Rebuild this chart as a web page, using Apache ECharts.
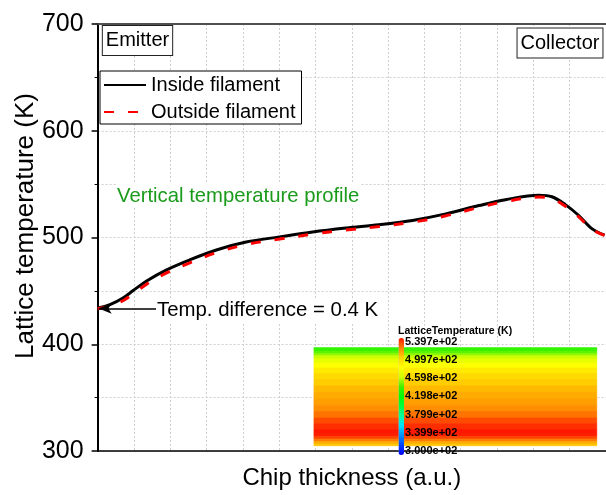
<!DOCTYPE html>
<html>
<head>
<meta charset="utf-8">
<script src="https://cdn.jsdelivr.net/npm/echarts@6/dist/echarts.min.js"></script>
<style>
  html, body { margin: 0; padding: 0; background: #fff; }
  #chart { width: 606px; height: 495px; }
</style>
</head>
<body>
<div id="chart"></div>
<script>
// Position along the chip thickness (a.u.) of each sampled point
const thickness = [0, 0.34, 0.71, 0.98, 1.35, 1.90, 2.54, 3.27, 4.09, 5.01, 5.92, 6.84,
                   7.75, 8.67, 9.59, 10.50, 11.23, 12.15, 12.51, 12.88, 13.25, 13.61, 13.96];
// Lattice temperature (K) inside and outside the filament
const insideTemp = [433.7, 437.1, 443.6, 450.3, 459.3, 469.7, 479.1, 488.3, 495.7, 500.6, 505.2, 508.9,
                    512.0, 516.0, 522.1, 529.9, 535.4, 539.6, 538.2, 530.8, 520.6, 508.3, 502.2];
const outsideTemp = [433.3, 435.8, 441.0, 447.3, 456.3, 466.8, 476.3, 485.8, 493.4, 498.5, 503.2, 507.0,
                     510.2, 514.3, 520.3, 528.2, 533.7, 537.9, 536.5, 529.3, 519.4, 507.6, 502.0];
const seriesNames = ['Inside filament', 'Outside filament'];
// Colour scale of the cross-section map
const colorbarMin = 300.0;
const colorbarMax = 539.7;
const colorbarLabels = ['3.000e+02', '3.399e+02', '3.799e+02', '4.198e+02', '4.598e+02', '4.997e+02', '5.397e+02'];
const colorbarColors = ['#0000ff', '#0040ff', '#0090ff', '#00e0ff', '#00ffa0', '#00ff40', '#00ff00',
                        '#40f000', '#d0ff00', '#ffff00', '#ffd000', '#ff8000', '#ff1800'];

const FONT = 'Liberation Sans, Arial, Helvetica, sans-serif';

const insidePoints = thickness.map((u, i) => [u, insideTemp[i]]);
const outsidePoints = thickness.map((u, i) => [u, outsideTemp[i]]);
// Horizontal bands of the cross-section: each sample spans to the midpoints of its neighbours
const bandData = thickness.map((u, i) => [
  i === 0 ? 0 : (thickness[i - 1] + u) / 2,
  i === thickness.length - 1 ? 14 : (u + thickness[i + 1]) / 2,
  insideTemp[i]
]);

const gridDash = [2, 2];
const gridColor = '#cfcfcf';

const chart = echarts.init(document.getElementById('chart'), null, { renderer: 'canvas' });
chart.setOption({
  animation: false,
  backgroundColor: '#fff',
  textStyle: { fontFamily: FONT, color: '#000' },
  grid: [
    { left: 97.6, top: 24, width: 510, height: 432.7 },
    { left: 314, top: 347.7, width: 282.7, height: 98 },
    { left: 403, top: 341.7, width: 1, height: 109.3 }
  ],
  xAxis: [
    {
      gridIndex: 0, type: 'value', min: 0, max: 14, interval: 1,
      axisLine: { show: true, onZero: false, lineStyle: { color: '#000', width: 1.5 } },
      axisTick: { show: false }, axisLabel: { show: false },
      splitLine: { show: true, lineStyle: { color: gridColor, type: gridDash, width: 1 } },
      name: 'Chip thickness (a.u.)', nameLocation: 'middle', nameGap: 15,
      nameTextStyle: { fontSize: 24, color: '#000', fontFamily: FONT }
    },
    {
      gridIndex: 0, type: 'value', position: 'top', min: 0, max: 14,
      axisLine: { show: true, onZero: false, lineStyle: { color: '#505050', width: 2 } },
      axisTick: { show: false }, axisLabel: { show: false }, splitLine: { show: false }
    },
    { gridIndex: 1, type: 'value', min: 0, max: 1, show: false },
    { gridIndex: 2, type: 'value', min: 0, max: 1, show: false }
  ],
  yAxis: [
    {
      gridIndex: 0, type: 'value', min: 300, max: 700, interval: 100,
      axisLine: { show: true, onZero: false, lineStyle: { color: '#000', width: 2 } },
      axisTick: { show: true, length: 6, lineStyle: { color: '#000', width: 1.5 } },
      minorTick: { show: true, splitNumber: 2, length: 3, lineStyle: { color: '#000', width: 1 } },
      splitLine: { show: true, lineStyle: { color: gridColor, type: gridDash, width: 1 } },
      minorSplitLine: { show: true, lineStyle: { color: gridColor, type: gridDash, width: 1 } },
      axisLabel: { fontSize: 25, color: '#000', margin: 14, fontFamily: FONT }
    },
    { gridIndex: 1, type: 'value', min: 0, max: 14, inverse: true, show: false },
    {
      gridIndex: 2, type: 'category', data: colorbarLabels, boundaryGap: false, position: 'right', z: 10,
      axisLine: { show: false }, axisTick: { show: false }, splitLine: { show: false },
      axisLabel: { interval: 0, margin: 1, fontSize: 11, fontWeight: 'bold', color: '#000', fontFamily: FONT }
    }
  ],
  visualMap: {
    type: 'continuous', min: colorbarMin, max: colorbarMax,
    seriesIndex: 2, dimension: 2, calculable: false, orient: 'vertical',
    left: 398.5, top: 338, itemWidth: 5.5, itemHeight: 117, padding: 0, z: 8,
    inRange: { color: colorbarColors }
  },
  legend: {
    orient: 'vertical', left: 100, top: 71,
    padding: [4, 6, 2, 3], itemWidth: 42, itemHeight: 14, itemGap: 7.0,
    backgroundColor: '#fff', borderColor: '#000', borderWidth: 1, borderRadius: 0,
    itemStyle: { opacity: 0 },
    textStyle: { fontSize: 20, color: '#000', fontFamily: FONT },
    data: seriesNames
  },
  series: [
    {
      name: seriesNames[0], type: 'line', xAxisIndex: 0, yAxisIndex: 0,
      data: insidePoints, symbol: 'none', showSymbol: false, smooth: 0.35,
      color: '#000', lineStyle: { color: '#000', width: 3 },
      markLine: {
        silent: true, symbol: ['none', 'arrow'], symbolSize: [8, 13],
        lineStyle: { color: '#000', width: 1.5, type: 'solid' },
        label: { show: false },
        data: [[{ coord: [1.62, 433.6] }, { coord: [0.03, 433.6] }]]
      }
    },
    {
      name: seriesNames[1], type: 'line', xAxisIndex: 0, yAxisIndex: 0,
      data: outsidePoints, symbol: 'none', showSymbol: false, smooth: 0.35,
      color: '#ff0000', lineStyle: { color: '#ff0000', width: 3, type: [10, 14] }
    },
    {
      type: 'custom', coordinateSystem: 'cartesian2d', xAxisIndex: 2, yAxisIndex: 1, silent: true,
      data: bandData,
      encode: { x: [], y: [0, 1] },
      renderItem: function (params, api) {
        const p0 = api.coord([0, api.value(0)]);
        const p1 = api.coord([1, api.value(1)]);
        const c = api.visual('color');
        return {
          type: 'rect',
          shape: { x: p0[0], y: p0[1], width: p1[0] - p0[0], height: p1[1] - p0[1] },
          style: { fill: c, stroke: c, lineWidth: 0.8 }
        };
      }
    }
  ],
  graphic: [
    {
      type: 'text', z: 10, x: 26, y: 226, rotation: Math.PI / 2,
      style: { text: 'Lattice temperature (K)', fontSize: 26, fontFamily: FONT, fill: '#000', align: 'center', verticalAlign: 'middle' }
    },
    {
      type: 'text', z: 10, x: 137.5, y: 40.5,
      style: {
        text: 'Emitter', fontSize: 20, fontFamily: FONT, fill: '#000', align: 'center', verticalAlign: 'middle',
        backgroundColor: '#fff', borderColor: '#222', borderWidth: 1, padding: [5, 3, 4, 3]
      }
    },
    {
      type: 'text', z: 10, x: 560, y: 43,
      style: {
        text: 'Collector', fontSize: 20, fontFamily: FONT, fill: '#000', align: 'center', verticalAlign: 'middle',
        backgroundColor: '#fff', borderColor: '#222', borderWidth: 1, padding: [5, 3, 4, 3]
      }
    },
    {
      type: 'text', z: 10, x: 116, y: 196,
      style: {
        text: 'Vertical temperature profile', fontSize: 20.3, fontFamily: FONT, fill: '#1b9b1b',
        align: 'left', verticalAlign: 'middle', backgroundColor: '#fff', padding: [2, 1, 2, 1]
      }
    },
    {
      type: 'text', z: 10, x: 156, y: 310,
      style: {
        text: 'Temp. difference = 0.4 K', fontSize: 20.4, fontFamily: FONT, fill: '#000',
        align: 'left', verticalAlign: 'middle', backgroundColor: '#fff', padding: [2, 1, 2, 1]
      }
    },
    {
      type: 'text', z: 10, x: 398, y: 331,
      style: { text: 'LatticeTemperature (K)', fontSize: 10.5, fontWeight: 'bold', fontFamily: FONT, fill: '#000', align: 'left', verticalAlign: 'middle' }
    }
  ]
});
</script>
</body>
</html>
